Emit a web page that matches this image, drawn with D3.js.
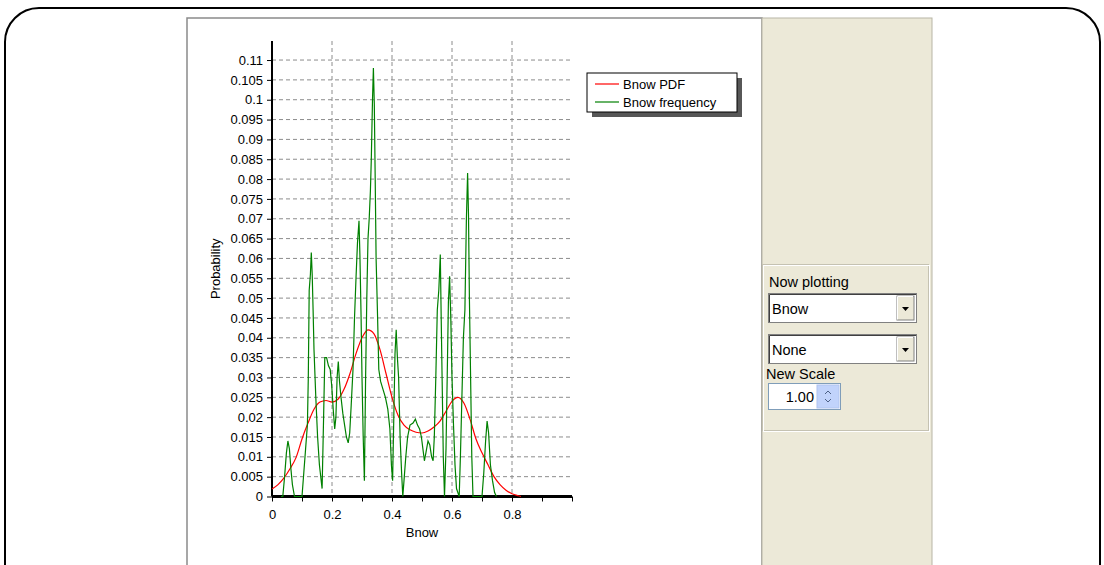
<!DOCTYPE html>
<html lang="en">
<head>
<meta charset="UTF-8">
<script src="https://d3js.org/d3.v7.min.js"></script>
<title>Bnow</title>
<style>
  body { margin: 0; background: #fff; }
  svg { display: block; font-family: "Liberation Sans", Arial, sans-serif; }
  .grid line { stroke: #8c8c8c; stroke-width: 1; stroke-dasharray: 4 3; }
</style>
</head>
<body>
<div id="chart"></div>
<script>
// tick labels
const yTicks = [0, 0.005, 0.01, 0.015, 0.02, 0.025, 0.03, 0.035, 0.04, 0.045, 0.05, 0.055,
                0.06, 0.065, 0.07, 0.075, 0.08, 0.085, 0.09, 0.095, 0.1, 0.105, 0.11];
const xTicks = [0, 0.1, 0.2, 0.3, 0.4, 0.5, 0.6, 0.7, 0.8, 0.9, 1.0];
const xLabels = [0, 0.2, 0.4, 0.6, 0.8];
const xGrid = [0.2, 0.4, 0.6, 0.8];

// Bnow PDF (red)
const pdfX = [0, 0.02, 0.04, 0.06, 0.08, 0.10, 0.12, 0.14, 0.16, 0.18, 0.20, 0.22, 0.24, 0.26,
              0.28, 0.30, 0.32, 0.34, 0.36, 0.38, 0.40, 0.42, 0.44, 0.46, 0.48, 0.50, 0.52,
              0.54, 0.56, 0.58, 0.60, 0.62, 0.64, 0.66, 0.68, 0.70, 0.72, 0.74, 0.76, 0.78,
              0.80, 0.82, 0.83];
const pdfY = [0.0019, 0.003, 0.0047, 0.007, 0.0098, 0.0145, 0.0185, 0.022, 0.0238, 0.0242,
              0.0238, 0.0245, 0.027, 0.031, 0.036, 0.040, 0.042, 0.041, 0.037, 0.031, 0.025,
              0.0205, 0.018, 0.0168, 0.0162, 0.016, 0.0165, 0.0175, 0.019, 0.0215, 0.024,
              0.025, 0.0235, 0.0195, 0.0145, 0.011, 0.008, 0.005, 0.003, 0.0016, 0.0007,
              0.0002, 0];

// Bnow frequency (green)
const freqX = [0.030, 0.036, 0.042, 0.048, 0.053, 0.058, 0.063, 0.068, 0.075, 0.085, 0.100,
               0.106, 0.112, 0.118, 0.121, 0.124, 0.128, 0.131, 0.134, 0.137, 0.140, 0.146,
               0.152, 0.158, 0.167, 0.172, 0.176, 0.182, 0.188, 0.194, 0.199, 0.204, 0.209,
               0.213, 0.217, 0.221, 0.225, 0.230, 0.236, 0.242, 0.248, 0.254, 0.259, 0.264,
               0.270, 0.275, 0.280, 0.285, 0.290, 0.293, 0.297, 0.300, 0.304, 0.308, 0.312,
               0.316, 0.320, 0.324, 0.328, 0.331, 0.335, 0.338, 0.341, 0.344, 0.347, 0.352,
               0.356, 0.362, 0.370, 0.378, 0.386, 0.393, 0.398, 0.402, 0.406, 0.410, 0.414,
               0.418, 0.422, 0.427, 0.432, 0.436, 0.440, 0.446, 0.452, 0.460, 0.470, 0.478,
               0.485, 0.492, 0.498, 0.503, 0.508, 0.513, 0.520, 0.526, 0.532, 0.537, 0.541,
               0.546, 0.551, 0.556, 0.561, 0.564, 0.567, 0.571, 0.575, 0.580, 0.584, 0.588,
               0.592, 0.596, 0.600, 0.605, 0.610, 0.615, 0.624, 0.628, 0.633, 0.638, 0.643,
               0.648, 0.652, 0.655, 0.658, 0.662, 0.666, 0.670, 0.700, 0.706, 0.712, 0.717,
               0.722, 0.728, 0.735, 0.742, 0.748];
const freqY = [0, 0, 0.005, 0.011, 0.014, 0.012, 0.007, 0.003, 0, 0, 0,
               0.006, 0.012, 0.018, 0.030, 0.052, 0.056, 0.0615, 0.056, 0.047, 0.037, 0.025,
               0.015, 0.008, 0.002, 0.020, 0.035, 0.035, 0.033, 0.032, 0.028, 0.022, 0.017,
               0.020, 0.030, 0.034, 0.029, 0.025, 0.021, 0.018, 0.015, 0.0135, 0.016, 0.023,
               0.032, 0.045, 0.055, 0.064, 0.0695, 0.061, 0.045, 0.030, 0.015, 0.004, 0.030,
               0.050, 0.065, 0.070, 0.077, 0.085, 0.100, 0.108, 0.099, 0.080, 0.060, 0.045,
               0.032, 0.029, 0.027, 0.025, 0.022, 0.017, 0.008, 0.004, 0.020, 0.036, 0.042,
               0.035, 0.030, 0.015, 0.006, 0, 0.004, 0.010, 0.015, 0.018, 0.0185, 0.0195,
               0.018, 0.017, 0.015, 0.012, 0.009, 0.011, 0.014, 0.013, 0.010, 0.009, 0.015,
               0.030, 0.047, 0.052, 0.061, 0.045, 0.030, 0.010, 0, 0.012, 0.030, 0.049,
               0.0555, 0.045, 0.030, 0.018, 0.008, 0.002, 0, 0.010, 0.025, 0.040, 0.047,
               0.070, 0.0815, 0.071, 0.050, 0.030, 0.010, 0, 0, 0.006, 0.014, 0.019,
               0.016, 0.008, 0.004, 0.001, 0];

const legendNames = ["Bnow PDF", "Bnow frequency"];
const legendColors = ["#ff0000", "#008000"];

const W = 1104, H = 565;
const svg = d3.select("#chart").append("svg").attr("width", W).attr("height", H);

// outer rounded frame
svg.append("rect").attr("x", 5).attr("y", 8).attr("width", 1095).attr("height", 620)
  .attr("rx", 34).attr("fill", "none").attr("stroke", "#000").attr("stroke-width", 2);

// white plot panel + beige side panel
svg.append("rect").attr("x", 187).attr("y", 18).attr("width", 575).attr("height", 560)
  .attr("fill", "#fff").attr("stroke", "#8a8a8a").attr("stroke-width", 1.5);
svg.append("rect").attr("x", 762).attr("y", 18).attr("width", 170).attr("height", 560)
  .attr("fill", "#ece9d8").attr("stroke", "#b8b5a6").attr("stroke-width", 1);

const x = d3.scaleLinear().domain([0, 1]).range([272, 572]);
const y = d3.scaleLinear().domain([0, 0.1148]).range([496.5, 41]);

// grid
const grid = svg.append("g").attr("class", "grid");
grid.selectAll(".h").data(yTicks.slice(1)).join("line")
  .attr("x1", x(0)).attr("x2", x(1)).attr("y1", d => y(d)).attr("y2", d => y(d));
grid.selectAll(".v").data(xGrid).join("line")
  .attr("x1", d => x(d)).attr("x2", d => x(d)).attr("y1", y.range()[1]).attr("y2", y(0));

// axes
const fmt = d => String(+d.toFixed(3));
const yAxis = svg.append("g").attr("transform", `translate(${x(0)},0)`)
  .call(d3.axisLeft(y).tickValues(yTicks).tickSize(5).tickPadding(4).tickFormat(fmt));
yAxis.select(".domain").attr("stroke-width", 2).attr("d", `M0,${y.range()[1]}V${y(0)}`);
yAxis.selectAll("text").attr("font-size", 13).attr("fill", "#000")
  .attr("font-family", "Liberation Sans, Arial, sans-serif");

const xAxis = svg.append("g").attr("transform", `translate(0,${y(0)})`)
  .call(d3.axisBottom(x).tickValues(xTicks).tickSize(5).tickPadding(8)
    .tickFormat(d => xLabels.some(v => Math.abs(v - d) < 1e-9) ? fmt(d) : ""));
xAxis.select(".domain").attr("stroke-width", 3).attr("d", `M${x(0)},0H${x(1)}`);
xAxis.selectAll("text").attr("font-size", 13).attr("fill", "#000")
  .attr("font-family", "Liberation Sans, Arial, sans-serif");

svg.append("text").attr("x", (x(0) + x(1)) / 2).attr("y", 537).attr("text-anchor", "middle")
  .attr("font-size", 13).text("Bnow");
svg.append("text").attr("transform", `translate(220,${(y(0) + y.range()[1]) / 2}) rotate(-90)`)
  .attr("text-anchor", "middle").attr("font-size", 13).text("Probability");

// series
const line = d3.line().x(d => x(d[0])).y(d => y(d[1]));
svg.append("path").datum(pdfX.map((v, i) => [v, pdfY[i]]))
  .attr("d", line.curve(d3.curveMonotoneX)).attr("fill", "none")
  .attr("stroke", legendColors[0]).attr("stroke-width", 1.2);
svg.append("path").datum(freqX.map((v, i) => [v, freqY[i]]))
  .attr("d", d3.line().x(d => x(d[0])).y(d => y(d[1]))).attr("fill", "none")
  .attr("stroke", legendColors[1]).attr("stroke-width", 1.2);

// legend
const lg = svg.append("g").attr("transform", "translate(587,73)");
lg.append("rect").attr("x", 5).attr("y", 5).attr("width", 150).attr("height", 39)
  .attr("fill", "#3a3a3a").attr("opacity", 0.85);
lg.append("rect").attr("width", 150).attr("height", 39).attr("fill", "#fff")
  .attr("stroke", "#000").attr("stroke-width", 1);
legendNames.forEach((n, i) => {
  lg.append("line").attr("x1", 8).attr("x2", 32).attr("y1", 11 + i * 18).attr("y2", 11 + i * 18)
    .attr("stroke", legendColors[i]).attr("stroke-width", 1.2);
  lg.append("text").attr("x", 36).attr("y", 15.5 + i * 18).attr("font-size", 13).text(n);
});

// side controls
const side = svg.append("g");
side.append("rect").attr("x", 762.5).attr("y", 264.5).attr("width", 166).attr("height", 166)
  .attr("fill", "none").attr("stroke", "#c5c2b2");
side.append("rect").attr("x", 763.5).attr("y", 265.5).attr("width", 166).attr("height", 166)
  .attr("fill", "none").attr("stroke", "#fff");
side.append("text").attr("x", 769).attr("y", 287).attr("font-size", 14.5).text("Now plotting");

function combo(y0, label) {
  side.append("rect").attr("x", 768.5).attr("y", y0 + 0.5).attr("width", 148).attr("height", 29)
    .attr("fill", "#fff").attr("stroke", "#808080");
  side.append("path").attr("d", `M769.5,${y0 + 29}V${y0 + 1.5}H916`).attr("fill", "none")
    .attr("stroke", "#404040");
  side.append("rect").attr("x", 897).attr("y", y0 + 3).attr("width", 17).attr("height", 24)
    .attr("fill", "#ece9d8").attr("stroke", "#808080");
  side.append("path").attr("d", `M897.5,${y0 + 26.5}V${y0 + 3.5}H913`).attr("fill", "none")
    .attr("stroke", "#fff");
  side.append("path").attr("d", `M902,${y0 + 14}h7l-3.5,4z`).attr("fill", "#000");
  side.append("text").attr("x", 772).attr("y", y0 + 21).attr("font-size", 14.5).text(label);
}
combo(293, "Bnow");
combo(334, "None");

side.append("text").attr("x", 766).attr("y", 379).attr("font-size", 14.5).text("New Scale");
side.append("rect").attr("x", 768.5).attr("y", 383.5).attr("width", 72).attr("height", 26)
  .attr("fill", "#fff").attr("stroke", "#7f9db9");
side.append("rect").attr("x", 817).attr("y", 385).attr("width", 22).attr("height", 23)
  .attr("fill", "#c1d3fb").attr("stroke", "#b0c4ef");
side.append("path").attr("d", "M825,394l3,-3l3,3M825,399l3,3l3,-3").attr("fill", "none")
  .attr("stroke", "#4d6185").attr("stroke-width", 1);
side.append("text").attr("x", 814).attr("y", 402).attr("text-anchor", "end")
  .attr("font-size", 14.5).text("1.00");
</script>
</body>
</html>
